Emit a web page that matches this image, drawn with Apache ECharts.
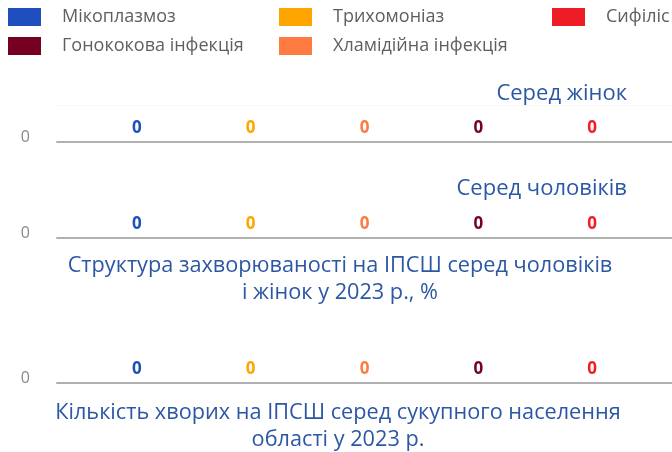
<!DOCTYPE html>
<html>
<head>
<meta charset="utf-8">
<script src="https://cdn.jsdelivr.net/npm/echarts@6/dist/echarts.min.js"></script>
<style>
html,body{margin:0;padding:0;background:#fff;}
#c{width:672px;height:452px;}
</style>
</head>
<body>
<div id="c"></div>
<script>
// Data
const diseases = ['Мікоплазмоз', 'Трихомоніаз', 'Хламідійна інфекція', 'Гонококова інфекція', 'Сифіліс'];
const colors = ['#1f4fbf', '#ffa500', '#ff7a40', '#750021', '#ee1c25'];
const women = [0, 0, 0, 0, 0];
const men = [0, 0, 0, 0, 0];
const total = [0, 0, 0, 0, 0];
const yTickLabels = ['0'];
const category = ['2023'];

const titleColor = '#2b57a5';
const fontFam = '"Open Sans", Roboto, sans-serif';

const grids = [
  {left: 57, right: 0, top: 105, height: 37},
  {left: 57, right: 0, top: 201, height: 37},
  {left: 57, right: 0, top: 346, height: 37}
];
const datasets = [women, men, total];

const xAxes = grids.map((g, i) => ({
  type: 'category', gridIndex: i, data: category,
  axisLine: {show: true, lineStyle: {color: '#b0b0b0', width: 2}},
  axisTick: {show: false}, axisLabel: {show: false}
}));
const yAxes = grids.map((g, i) => ({
  type: 'value', gridIndex: i, min: 0, max: 1, interval: 1,
  axisLine: {show: false}, axisTick: {show: false},
  splitLine: {show: i === 0, lineStyle: {color: '#f8f8f8', width: 1}},
  axisLabel: {
    color: '#888', fontSize: 16, fontFamily: fontFam, margin: 27,
    verticalAlign: 'bottom', lineHeight: 10,
    formatter: v => (v === 0 ? yTickLabels[0] : '')
  }
}));

const series = [];
datasets.forEach((arr, gi) => {
  diseases.forEach((name, si) => {
    series.push({
      type: 'bar', name: name, xAxisIndex: gi, yAxisIndex: gi,
      data: [arr[si]],
      barGap: '0%', barCategoryGap: '7.5%',
      itemStyle: {color: colors[si]},
      label: {show: true, position: 'top', distance: 5, color: colors[si],
              fontSize: 17, fontWeight: 'bold', fontFamily: fontFam}
    });
  });
});

const legendCommon = {
  orient: 'vertical', top: 8, padding: 0, icon: 'rect', itemWidth: 33, itemHeight: 18, itemGap: 11,
  textStyle: {color: '#5f5f5f', fontSize: 18, fontFamily: fontFam, lineHeight: 18, padding: [0, 0, 0, 16]}
};

const option = {
  animation: false,
  backgroundColor: '#fff',
  title: [
    {text: 'Серед жінок', right: 45, top: 82, padding: 0,
     textStyle: {color: titleColor, fontSize: 22, fontWeight: 'normal', fontFamily: fontFam, lineHeight: 24}},
    {text: 'Серед чоловіків', right: 45, top: 177, padding: 0,
     textStyle: {color: titleColor, fontSize: 22, fontWeight: 'normal', fontFamily: fontFam, lineHeight: 24}},
    {text: 'Структура захворюваності на ІПСШ серед чоловіків\nі жінок у 2023 р., %', left: 340, top: 252, padding: 0, textAlign: 'center',
     textStyle: {color: titleColor, fontSize: 21.7, fontWeight: 'normal', fontFamily: fontFam, lineHeight: 27}},
    {text: 'Кількість хворих на ІПСШ серед сукупного населення\nобласті у 2023 р.', left: 338, top: 399, padding: 0, textAlign: 'center',
     textStyle: {color: titleColor, fontSize: 21.7, fontWeight: 'normal', fontFamily: fontFam, lineHeight: 27}}
  ],
  legend: [
    Object.assign({left: 8, data: [diseases[0], diseases[3]]}, legendCommon),
    Object.assign({left: 279, data: [diseases[1], diseases[2]]}, legendCommon),
    Object.assign({left: 552, data: [diseases[4]]}, legendCommon)
  ],
  grid: grids,
  xAxis: xAxes,
  yAxis: yAxes,
  series: series
};

const chart = echarts.init(document.getElementById('c'), null, {renderer: 'canvas'});
chart.setOption(option);
</script>
</body>
</html>
